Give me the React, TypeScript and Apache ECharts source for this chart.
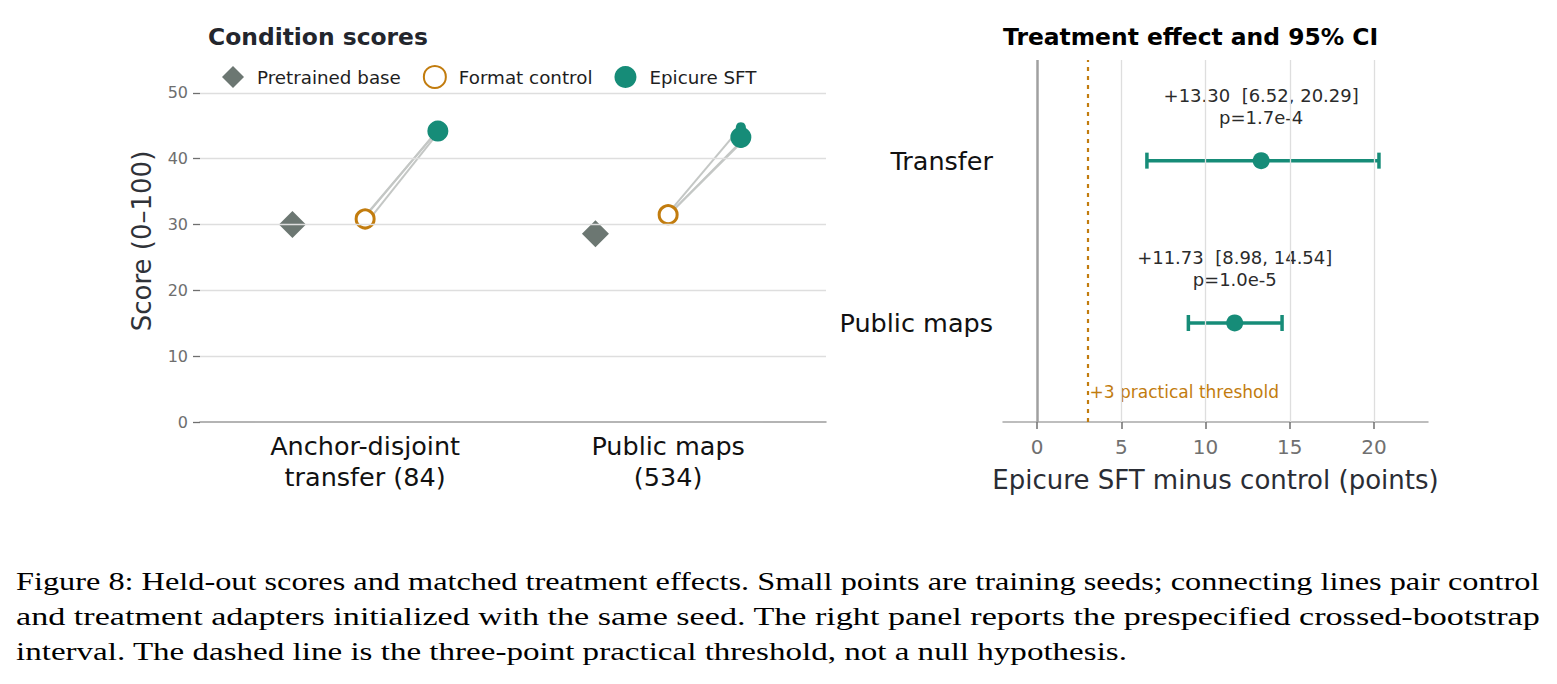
import React, { useEffect, useRef } from "react";
import * as echarts from "echarts";

// ---------------- data ----------------
const groupLabels = ["Anchor-disjoint\ntransfer (84)", "Public maps\n(534)"];
const conditionNames = ["Pretrained base", "Format control", "Epicure SFT"];
const baseScores = [30.0, 28.6];
const controlScores = [30.85, 31.5];
const sftScores = [44.2, 43.25];
const controlSeeds = [
  [31.2, 31.3, 30.0],
  [31.7, 31.4, 31.4],
];
const sftSeeds = [
  [44.4, 44.3, 43.9],
  [44.8, 42.6, 42.4],
];
const scoreTicks = [0, 10, 20, 30, 40, 50];
const scoreMax = 55;

const effectRows = ["Transfer", "Public maps"];
const effectEst = [13.3, 11.73];
const effectLo = [6.52, 8.98];
const effectHi = [20.29, 14.54];
const effectP = ["1.7e-4", "1.0e-5"];
const effectTicks = [0, 5, 10, 15, 20];
const threshold = 3;

const captionLines = [
  "Figure 8: Held-out scores and matched treatment effects. Small points are training seeds; connecting lines pair control",
  "and treatment adapters initialized with the same seed. The right panel reports the prespecified crossed-bootstrap",
  "interval. The dashed line is the three-point practical threshold, not a null hypothesis.",
];

// ---------------- styling / layout ----------------
const TEAL = "#168c78";
const ORANGE = "#c27c0e";
const GRAY = "#6c7772";
const FONT = "DejaVu Sans";
const OFFSET = 0.24;
const captionRight = [1541, 1541, 1128];
const captionY = [581, 616, 651];
const CAPTION_FONT = "Liberation Serif";
const CAPTION_SIZE = 25;

function measure(text: string, size: number, family: string) {
  const c = document.createElement("canvas");
  const ctx = c.getContext("2d")!;
  ctx.font = `${size}px "${family}"`;
  return ctx.measureText(text).width;
}

export default function App() {
  const ref = useRef<HTMLDivElement>(null);

  useEffect(() => {
    document.body.style.margin = "0";
    const chart = echarts.init(ref.current!, null, { renderer: "svg" });
    const nRows = effectRows.length;
    const rowPos = (i: number) => nRows - 1 - i;

    const seedLineSeries: any[] = [];
    groupLabels.forEach((_, g) => {
      controlSeeds[g].forEach((c, s) => {
        seedLineSeries.push({
          type: "line",
          xAxisIndex: 0,
          yAxisIndex: 0,
          data: [
            [g, c],
            [g + OFFSET, sftSeeds[g][s]],
          ],
          symbol: "none",
          lineStyle: { color: "#c4c7c5", width: 2, opacity: 1 },
          z: 1,
          silent: true,
        });
      });
    });

    const controlSeedPts: number[][] = [];
    const sftSeedPts: number[][] = [];
    groupLabels.forEach((_, g) => {
      controlSeeds[g].forEach((v) => controlSeedPts.push([g, v]));
      sftSeeds[g].forEach((v) => sftSeedPts.push([g + OFFSET, v]));
    });

    const captionGraphics = captionLines.map((line, i) => {
      const w = measure(line, CAPTION_SIZE, CAPTION_FONT);
      const target = captionRight[i] - 16;
      return {
        type: "text",
        x: 16,
        y: captionY[i],
        scaleX: w > 0 ? target / w : 1,
        silent: true,
        style: {
          text: line,
          fontSize: CAPTION_SIZE,
          fontFamily: CAPTION_FONT,
          fill: "#000",
          verticalAlign: "middle",
          align: "left",
        },
      };
    });

    const option: any = {
      animation: false,
      backgroundColor: "#fff",
      textStyle: { fontFamily: FONT },
      title: [
        {
          text: "Condition scores",
          left: 208,
          top: 25,
          padding: 0,
          textStyle: { fontSize: 23.4, fontWeight: "bold", color: "#23262d", fontFamily: FONT },
        },
        {
          text: "Treatment effect and 95% CI",
          left: 1003,
          top: 25,
          padding: 0,
          textStyle: { fontSize: 23.4, fontWeight: "bold", color: "#000", fontFamily: FONT },
        },
      ],
      legend: {
        left: 222,
        top: 65,
        padding: 0,
        itemWidth: 22,
        itemHeight: 22,
        itemGap: 22,
        selectedMode: false,
        textStyle: { fontSize: 18.3, color: "#1e1e1e", fontFamily: FONT, padding: [0, 0, 0, 8] },
        data: [
          { name: conditionNames[0], icon: "diamond" },
          { name: conditionNames[1], icon: "circle" },
          { name: conditionNames[2], icon: "circle" },
        ],
      },
      grid: [
        { left: 200, top: 60, width: 626, height: 362, containLabel: false, outerBoundsMode: "none" },
        { left: 1003, top: 60, width: 425, height: 362, containLabel: false, outerBoundsMode: "none" },
      ],
      xAxis: [
        {
          type: "value",
          gridIndex: 0,
          min: -0.545,
          max: 1.521,
          axisLine: { show: true, onZero: false, lineStyle: { color: "#9c9c9c", width: 1.5 } },
          axisTick: { show: false },
          splitLine: { show: false },
          axisLabel: {
            customValues: groupLabels.map((_, i) => i),
            formatter: (v: number) => groupLabels[Math.round(v)] ?? "",
            fontSize: 25.5,
            lineHeight: 31,
            color: "#111",
            margin: 8,
            fontFamily: FONT,
          },
        },
        {
          type: "value",
          gridIndex: 1,
          min: -2.02,
          max: 23.2,
          axisLine: { show: true, onZero: false, lineStyle: { color: "#a8a8a8", width: 1.5 } },
          axisTick: { show: true, customValues: effectTicks, length: 7, lineStyle: { color: "#6f6f6f", width: 1.5 } },
          splitLine: { show: false },
          axisLabel: {
            customValues: effectTicks,
            formatter: (v: number) => String(v),
            fontSize: 20,
            color: "#707070",
            margin: 15,
            fontFamily: FONT,
          },
          name: "Epicure SFT minus control (points)",
          nameLocation: "middle",
          nameGap: 45,
          nameTextStyle: { fontSize: 26, color: "#2a2d35", fontFamily: FONT },
        },
      ],
      yAxis: [
        {
          type: "value",
          gridIndex: 0,
          min: scoreTicks[0],
          max: scoreMax,
          axisLine: { show: false, onZero: false },
          axisTick: { show: true, customValues: scoreTicks, length: 7, lineStyle: { color: "#6f6f6f", width: 1.3 } },
          splitLine: { show: false },
          axisLabel: {
            customValues: scoreTicks,
            formatter: (v: number) => String(v),
            fontSize: 16,
            color: "#6e6e6e",
            margin: 12,
            fontFamily: FONT,
          },
          name: "Score (0–100)",
          nameLocation: "middle",
          nameGap: 45,
          nameTextStyle: { fontSize: 26, color: "#2f3238", fontFamily: FONT },
        },
        {
          type: "value",
          gridIndex: 1,
          min: -0.61,
          max: 1.62,
          axisLine: { show: false, onZero: false },
          axisTick: { show: false },
          splitLine: { show: false },
          axisLabel: {
            customValues: effectRows.map((_, i) => rowPos(i)),
            formatter: (v: number) => effectRows[nRows - 1 - Math.round(v)] ?? "",
            fontSize: 25.5,
            color: "#111",
            margin: 10,
            fontFamily: FONT,
          },
        },
      ],
      graphic: captionGraphics,
      series: [
        // left grid lines
        {
          name: "score grid",
          type: "scatter",
          xAxisIndex: 0,
          yAxisIndex: 0,
          data: baseScores.map((v, g) => [g - OFFSET, v]),
          symbolSize: 0,
          silent: true,
          z: 0,
          markLine: {
            silent: true,
            symbol: ["none", "none"],
            label: { show: false },
            data: scoreTicks
              .filter((t) => t !== 0)
              .map((t) => ({ yAxis: t, lineStyle: { color: "#dedede", width: 1.3, type: "solid", opacity: 1 } })),
          },
        },
        ...seedLineSeries,
        {
          name: "control seeds",
          type: "scatter",
          xAxisIndex: 0,
          yAxisIndex: 0,
          data: controlSeedPts,
          symbol: "circle",
          symbolSize: 8,
          itemStyle: { color: "#fff", borderColor: ORANGE, borderWidth: 1.8, opacity: 1 },
          z: 2,
          silent: true,
        },
        {
          name: "sft seeds",
          type: "scatter",
          xAxisIndex: 0,
          yAxisIndex: 0,
          data: sftSeedPts,
          symbol: "circle",
          symbolSize: 10,
          itemStyle: { color: TEAL, opacity: 1 },
          z: 2,
          silent: true,
        },
        {
          name: conditionNames[0],
          type: "scatter",
          xAxisIndex: 0,
          yAxisIndex: 0,
          data: baseScores.map((v, g) => [g - OFFSET, v]),
          symbol: "diamond",
          symbolSize: 27,
          itemStyle: { color: GRAY, opacity: 1 },
          z: 3,
          silent: true,
        },
        {
          name: conditionNames[1],
          type: "scatter",
          xAxisIndex: 0,
          yAxisIndex: 0,
          data: controlScores.map((v, g) => [g, v]),
          symbol: "circle",
          symbolSize: 18,
          itemStyle: { color: "#fff", borderColor: ORANGE, borderWidth: 3, opacity: 1 },
          z: 3,
          silent: true,
        },
        {
          name: conditionNames[2],
          type: "scatter",
          xAxisIndex: 0,
          yAxisIndex: 0,
          data: sftScores.map((v, g) => [g + OFFSET, v]),
          symbol: "circle",
          symbolSize: 21,
          itemStyle: { color: TEAL, opacity: 1 },
          z: 3,
          silent: true,
        },
        // reference lines (grid, zero, threshold)
        {
          name: "reference lines",
          type: "scatter",
          xAxisIndex: 1,
          yAxisIndex: 1,
          data: effectEst.map((v, i) => [v, rowPos(i)]),
          symbolSize: 0,
          silent: true,
          z: 0,
          markLine: {
            silent: true,
            symbol: ["none", "none"],
            label: { show: false },
            data: [
              ...effectTicks
                .filter((t) => t !== 0)
                .map((t) => ({ xAxis: t, lineStyle: { color: "#dedede", width: 1.3, type: "solid", opacity: 1 } })),
              { xAxis: 0, lineStyle: { color: "#a0a0a0", width: 2.5, type: "solid", opacity: 1 } },
              { xAxis: threshold, lineStyle: { color: ORANGE, width: 2.2, type: [4, 5], opacity: 1 } },
            ],
          },
        },
        {
          name: "threshold label",
          type: "scatter",
          xAxisIndex: 1,
          yAxisIndex: 1,
          data: [[threshold, -0.425]],
          symbolSize: 0,
          silent: true,
          itemStyle: { opacity: 1 },
          label: {
            show: true,
            position: "right",
            distance: 2,
            formatter: `+${threshold} practical threshold`,
            fontSize: 17,
            color: ORANGE,
            opacity: 1,
            fontFamily: FONT,
          },
        },
        {
          name: "CI",
          type: "custom",
          xAxisIndex: 1,
          yAxisIndex: 1,
          data: effectRows.map((_, i) => [effectLo[i], effectHi[i], rowPos(i)]),
          encode: { x: [0, 1], y: 2 },
          silent: true,
          z: 2,
          renderItem: (params: any, api: any) => {
            const p1 = api.coord([api.value(0), api.value(2)]);
            const p2 = api.coord([api.value(1), api.value(2)]);
            const cap = 8;
            const style = { stroke: TEAL, lineWidth: 3.5 };
            return {
              type: "group",
              children: [
                { type: "line", shape: { x1: p1[0], y1: p1[1], x2: p2[0], y2: p2[1] }, style },
                { type: "line", shape: { x1: p1[0], y1: p1[1] - cap, x2: p1[0], y2: p1[1] + cap }, style },
                { type: "line", shape: { x1: p2[0], y1: p2[1] - cap, x2: p2[0], y2: p2[1] + cap }, style },
              ],
            };
          },
        },
        {
          name: "estimate",
          type: "scatter",
          xAxisIndex: 1,
          yAxisIndex: 1,
          data: effectEst.map((v, i) => [v, rowPos(i)]),
          symbol: "circle",
          symbolSize: 17,
          itemStyle: { color: TEAL, opacity: 1 },
          z: 3,
          silent: true,
          label: {
            show: true,
            position: "top",
            distance: 24,
            align: "center",
            formatter: (p: any) => {
              const i = p.dataIndex;
              return `+${effectEst[i].toFixed(2)}  [${effectLo[i].toFixed(2)}, ${effectHi[i].toFixed(2)}]\np=${effectP[i]}`;
            },
            fontSize: 18,
            lineHeight: 22,
            color: "#2b2b2b",
            fontFamily: FONT,
          },
        },
      ],
    };

    chart.setOption(option);
    return () => chart.dispose();
  }, []);

  return <div ref={ref} style={{ width: 1557, height: 684, background: "#fff" }} />;
}
